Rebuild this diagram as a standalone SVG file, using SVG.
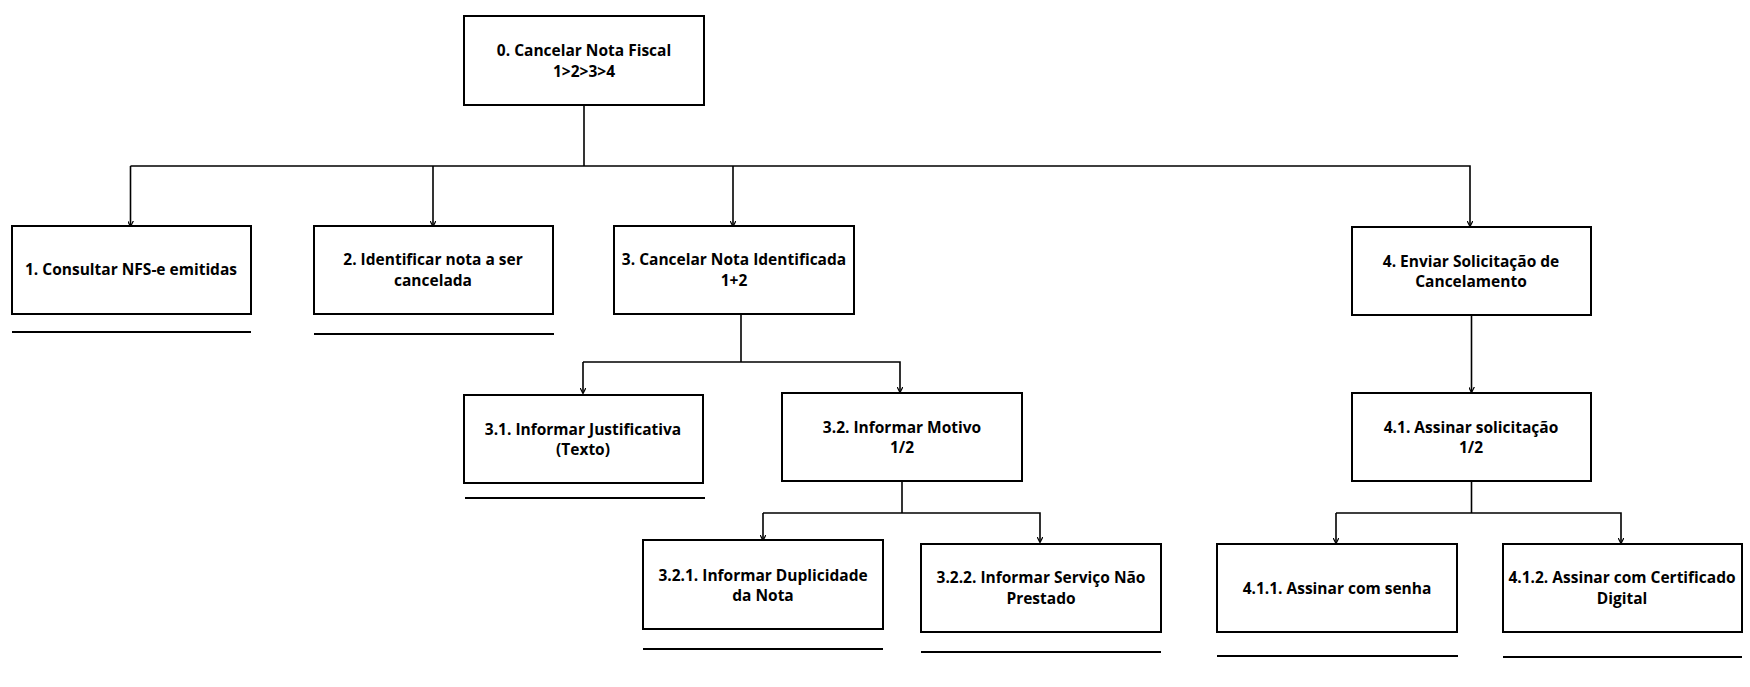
<svg xmlns="http://www.w3.org/2000/svg" width="1750" height="687" viewBox="0 0 1750 687">
<style>
.box{fill:#fff;stroke:#000;stroke-width:2}
.ul{stroke:#000;stroke-width:2}
.c{fill:none;stroke:#000;stroke-width:1.6}
text{font-family:"Open Sans","Noto Sans","Liberation Sans",sans-serif;font-weight:700;font-size:15.5px;fill:#000;text-anchor:middle}
</style>
<defs>
<marker id="ah" viewBox="0 0 10 10" refX="9" refY="5" markerWidth="6" markerHeight="6" markerUnits="userSpaceOnUse" orient="auto">
<path d="M0,0 L10,5 L0,10" fill="none" stroke="#000" stroke-width="2"/>
</marker>
</defs>
<rect width="1750" height="687" fill="#fff"/>
<g id="connectors">
<path class="c" d="M584,105 V166"/>
<path class="c" d="M130.5,166 H1470 V226" marker-end="url(#ah)"/>
<path class="c" d="M130.5,166 V226" marker-end="url(#ah)"/>
<path class="c" d="M433,166 V226" marker-end="url(#ah)"/>
<path class="c" d="M733,166 V226" marker-end="url(#ah)"/>
<path class="c" d="M741,314 V362"/>
<path class="c" d="M583,362 H900 V392" marker-end="url(#ah)"/>
<path class="c" d="M583,362 V393" marker-end="url(#ah)"/>
<path class="c" d="M902,481 V513"/>
<path class="c" d="M763,513 H1040 V542" marker-end="url(#ah)"/>
<path class="c" d="M763,513 V540" marker-end="url(#ah)"/>
<path class="c" d="M1471.5,315 V392" marker-end="url(#ah)"/>
<path class="c" d="M1471.5,481 V513"/>
<path class="c" d="M1336,513 H1621 V543" marker-end="url(#ah)"/>
<path class="c" d="M1336,513 V543" marker-end="url(#ah)"/>
</g>
<g id="n0">
<rect class="box" x="464" y="16" width="240" height="89"/>
<text x="584" y="56">0. Cancelar Nota Fiscal</text>
<text x="584" y="77">1&gt;2&gt;3&gt;4</text>
</g>
<g id="n1">
<rect class="box" x="12" y="226" width="239" height="88"/>
<text x="131" y="275">1. Consultar NFS-e emitidas</text>
<line class="ul" x1="12" y1="332" x2="251" y2="332"/>
</g>
<g id="n2">
<rect class="box" x="314" y="226" width="239" height="88"/>
<text x="433" y="265">2. Identificar nota a ser</text>
<text x="433" y="286">cancelada</text>
<line class="ul" x1="314" y1="334" x2="554" y2="334"/>
</g>
<g id="n3">
<rect class="box" x="614" y="226" width="240" height="88"/>
<text x="734" y="265">3. Cancelar Nota Identificada</text>
<text x="734" y="286">1+2</text>
</g>
<g id="n4">
<rect class="box" x="1352" y="227" width="239" height="88"/>
<text x="1471" y="267">4. Enviar Solicitação de</text>
<text x="1471" y="287">Cancelamento</text>
</g>
<g id="n3_1">
<rect class="box" x="464" y="395" width="239" height="88"/>
<text x="583" y="435">3.1. Informar Justificativa</text>
<text x="583" y="455">(Texto)</text>
<line class="ul" x1="465" y1="498" x2="705" y2="498"/>
</g>
<g id="n3_2">
<rect class="box" x="782" y="393" width="240" height="88"/>
<text x="902" y="433">3.2. Informar Motivo</text>
<text x="902" y="453">1/2</text>
</g>
<g id="n3_2_1">
<rect class="box" x="643" y="540" width="240" height="89"/>
<text x="763" y="581">3.2.1. Informar Duplicidade</text>
<text x="763" y="601">da Nota</text>
<line class="ul" x1="643" y1="649" x2="883" y2="649"/>
</g>
<g id="n3_2_2">
<rect class="box" x="921" y="544" width="240" height="88"/>
<text x="1041" y="583">3.2.2. Informar Serviço Não</text>
<text x="1041" y="604">Prestado</text>
<line class="ul" x1="921" y1="652" x2="1161" y2="652"/>
</g>
<g id="n4_1">
<rect class="box" x="1352" y="393" width="239" height="88"/>
<text x="1471" y="433">4.1. Assinar solicitação</text>
<text x="1471" y="453">1/2</text>
</g>
<g id="n4_1_1">
<rect class="box" x="1217" y="544" width="240" height="88"/>
<text x="1337" y="594">4.1.1. Assinar com senha</text>
<line class="ul" x1="1217" y1="656" x2="1458" y2="656"/>
</g>
<g id="n4_1_2">
<rect class="box" x="1503" y="544" width="239" height="88"/>
<text x="1622" y="583">4.1.2. Assinar com Certificado</text>
<text x="1622" y="604">Digital</text>
<line class="ul" x1="1503" y1="657" x2="1742" y2="657"/>
</g>
</svg>
